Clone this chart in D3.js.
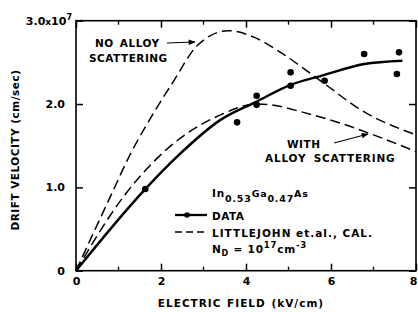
<!DOCTYPE html>
<html>
<head>
<meta charset="utf-8">
<style>
body { margin: 0; background: #fff; }
text { font-family: "DejaVu Sans", sans-serif; font-weight: bold; fill: #000; }
.axis path { display: none; }
.axis line { stroke: #000; stroke-width: 1.5; }
.axis text { font-size: 11px; }
.lab { font-size: 10.5px; letter-spacing: 0.5px; }
</style>
</head>
<body>
<svg width="418" height="312"></svg>
<script src="https://cdn.jsdelivr.net/npm/d3@7"></script>
<script>
  // measured points (electric field kV/cm, drift velocity 1e7 cm/s)
  var dataField = [1.63, 3.79, 4.25, 4.25, 5.05, 5.05, 5.85, 6.78, 7.60, 7.55];
  var dataVel   = [0.98, 1.78, 2.10, 1.99, 2.38, 2.22, 2.28, 2.60, 2.62, 2.36];

  // smooth line through data
  var fitField = [0, 1.63, 2.36, 3.4, 4.25, 5.05, 5.85, 6.78, 7.68];
  var fitVel   = [0, 0.98, 1.36, 1.81, 2.03, 2.23, 2.35, 2.48, 2.52];

  // Littlejohn et al. calculations
  var noAlloyField = [0, 0.8, 1.3, 1.8, 2.29, 2.85, 3.58, 4.2, 4.81, 5.83, 6.7, 8];
  var noAlloyVel   = [0, 0.88, 1.42, 1.87, 2.27, 2.70, 2.88, 2.80, 2.62, 2.25, 1.93, 1.63];
  var withAlloyField = [0, 1.18, 2.12, 3.4, 4.25, 4.58, 5.35, 6.23, 7.0, 8];
  var withAlloyVel   = [0, 0.93, 1.45, 1.87, 2.0, 1.99, 1.90, 1.77, 1.63, 1.43];

  var xTicks = [0, 2, 4, 6, 8];
  var yTicks = [0, 1, 2, 3];
  var yTickLabels = ["0", "1.0", "2.0", "3.0"];

  var svg = d3.select("svg");

  var x = d3.scaleLinear().domain([0, 8]).range([76, 416]);
  var y = d3.scaleLinear().domain([0, 3]).range([270.7, 20.7]);

  var defs = svg.append("defs");
  defs.append("marker")
    .attr("id", "arrow")
    .attr("viewBox", "0 0 10 10")
    .attr("refX", 9).attr("refY", 5)
    .attr("markerWidth", 9).attr("markerHeight", 7)
    .attr("markerUnits", "userSpaceOnUse")
    .attr("orient", "auto")
    .append("path").attr("d", "M0,1L10,5L0,9Z").attr("fill", "#000");

  // frame
  svg.append("rect")
    .attr("x", x(0)).attr("y", y(3))
    .attr("width", x(8) - x(0)).attr("height", y(0) - y(3))
    .attr("fill", "none").attr("stroke", "#000").attr("stroke-width", 1.6);

  // axes
  var bottom = svg.append("g").attr("class", "axis")
    .attr("transform", "translate(0," + y(0) + ")")
    .call(d3.axisBottom(x).tickValues(xTicks).tickSize(-7).tickPadding(7).tickFormat(d3.format("d")));
  // last label sits at the page edge; nudge it inside
  bottom.selectAll(".tick text").filter(function(d) { return d === 8; })
    .attr("text-anchor", "end").attr("dx", 1);
  svg.append("g").attr("class", "axis")
    .attr("transform", "translate(0," + y(3) + ")")
    .call(d3.axisTop(x).tickValues(xTicks).tickSize(-7).tickFormat(""));
  svg.append("g").attr("class", "axis")
    .attr("transform", "translate(" + x(0) + ",0)")
    .call(d3.axisLeft(y).tickValues(yTicks).tickSize(-7).tickPadding(11)
      .tickFormat(function(d, i) { return i < 3 ? yTickLabels[i] : ""; }));
  svg.append("g").attr("class", "axis")
    .attr("transform", "translate(" + x(8) + ",0)")
    .call(d3.axisRight(y).tickValues(yTicks).tickSize(-7).tickFormat(""));

  // minor ticks
  var minor = [1, 3, 5, 7];
  svg.append("g").selectAll("line").data(minor).enter().append("line")
    .attr("x1", function(d) { return x(d); }).attr("x2", function(d) { return x(d); })
    .attr("y1", y(0)).attr("y2", y(0) - 4)
    .attr("stroke", "#000").attr("stroke-width", 1.3);
  svg.append("g").selectAll("line").data(minor).enter().append("line")
    .attr("x1", function(d) { return x(d); }).attr("x2", function(d) { return x(d); })
    .attr("y1", y(3)).attr("y2", y(3) + 4)
    .attr("stroke", "#000").attr("stroke-width", 1.3);

  // top y label 3.0x10^7
  var topLab = svg.append("text").attr("x", 72).attr("y", y(3) + 4)
    .attr("text-anchor", "end").style("font-size", "11px");
  topLab.append("tspan").text("3.0");
  topLab.append("tspan").style("font-size", "9px").text("x");
  topLab.append("tspan").text("10");
  topLab.append("tspan").attr("dy", -5).style("font-size", "8px").text("7");

  // axis titles
  svg.append("text").attr("x", 241).attr("y", 307)
    .attr("text-anchor", "middle").style("font-size", "10.5px")
    .style("letter-spacing", "1px").style("word-spacing", "1px")
    .text("ELECTRIC FIELD (kV/cm)");
  svg.append("text").attr("transform", "translate(19,150) rotate(-90)")
    .attr("text-anchor", "middle").style("font-size", "10.5px").style("letter-spacing", "0.5px")
    .text("DRIFT VELOCITY (cm/sec)");

  var line = d3.line().curve(d3.curveMonotoneX)
    .x(function(d) { return x(d[0]); })
    .y(function(d) { return y(d[1]); });

  svg.append("path")
    .datum(d3.zip(noAlloyField, noAlloyVel))
    .attr("d", line).attr("fill", "none").attr("stroke", "#000")
    .attr("stroke-width", 1.5).attr("stroke-dasharray", "10,5");
  svg.append("path")
    .datum(d3.zip(withAlloyField, withAlloyVel))
    .attr("d", line).attr("fill", "none").attr("stroke", "#000")
    .attr("stroke-width", 1.5).attr("stroke-dasharray", "10,5");
  svg.append("path")
    .datum(d3.zip(fitField, fitVel))
    .attr("d", line).attr("fill", "none").attr("stroke", "#000")
    .attr("stroke-width", 2.5);

  svg.append("g").selectAll("circle")
    .data(d3.zip(dataField, dataVel)).enter().append("circle")
    .attr("cx", function(d) { return x(d[0]); })
    .attr("cy", function(d) { return y(d[1]); })
    .attr("r", 3.3).attr("fill", "#000");

  // annotations
  svg.append("text").attr("class", "lab").attr("x", 95).attr("y", 47)
    .style("word-spacing", "2px").text("NO ALLOY");
  svg.append("text").attr("class", "lab").attr("x", 89).attr("y", 62).text("SCATTERING");
  svg.append("line").attr("x1", 167).attr("y1", 43).attr("x2", 195).attr("y2", 42)
    .attr("stroke", "#000").attr("stroke-width", 1.2).attr("marker-end", "url(#arrow)");

  svg.append("text").attr("class", "lab").attr("x", 287).attr("y", 148).text("WITH");
  svg.append("text").attr("class", "lab").attr("x", 265).attr("y", 162)
    .style("letter-spacing", "0.8px").style("word-spacing", "3px").text("ALLOY SCATTERING");
  svg.append("line").attr("x1", 334).attr("y1", 143).attr("x2", 368).attr("y2", 134)
    .attr("stroke", "#000").attr("stroke-width", 1.2).attr("marker-end", "url(#arrow)");

  var comp = svg.append("text").attr("class", "lab").attr("x", 212).attr("y", 197)
    .style("letter-spacing", "0.8px");
  comp.append("tspan").text("In");
  comp.append("tspan").attr("dy", 5).style("font-size", "9.5px").text("0.53");
  comp.append("tspan").attr("dy", -5).style("font-size", "9.5px").text("Ga");
  comp.append("tspan").attr("dy", 5).style("font-size", "9.5px").text("0.47");
  comp.append("tspan").attr("dy", -5).style("font-size", "9.5px").text("As");

  // legend
  svg.append("line").attr("x1", 175).attr("x2", 207).attr("y1", 215).attr("y2", 215)
    .attr("stroke", "#000").attr("stroke-width", 2.3);
  svg.append("circle").attr("cx", 187).attr("cy", 215).attr("r", 2.8).attr("fill", "#000");
  svg.append("text").attr("class", "lab").attr("x", 212).attr("y", 220).text("DATA");
  svg.append("line").attr("x1", 175).attr("x2", 207).attr("y1", 232).attr("y2", 232)
    .attr("stroke", "#000").attr("stroke-width", 1.3).attr("stroke-dasharray", "7,4");
  svg.append("text").attr("class", "lab").attr("x", 212).attr("y", 237)
    .style("letter-spacing", "1px").style("word-spacing", "0px").text("LITTLEJOHN et.al., CAL.");

  var nd = svg.append("text").attr("class", "lab").attr("x", 212).attr("y", 253)
    .style("letter-spacing", "0.8px");
  nd.append("tspan").text("N");
  nd.append("tspan").attr("dy", 3).style("font-size", "8px").text("D");
  nd.append("tspan").attr("dy", -3).text(" = 10");
  nd.append("tspan").attr("dy", -5).style("font-size", "8.5px").text("17");
  nd.append("tspan").attr("dy", 5).text("cm");
  nd.append("tspan").attr("dy", -5).style("font-size", "8.5px").text("-3");
</script>
</body>
</html>
